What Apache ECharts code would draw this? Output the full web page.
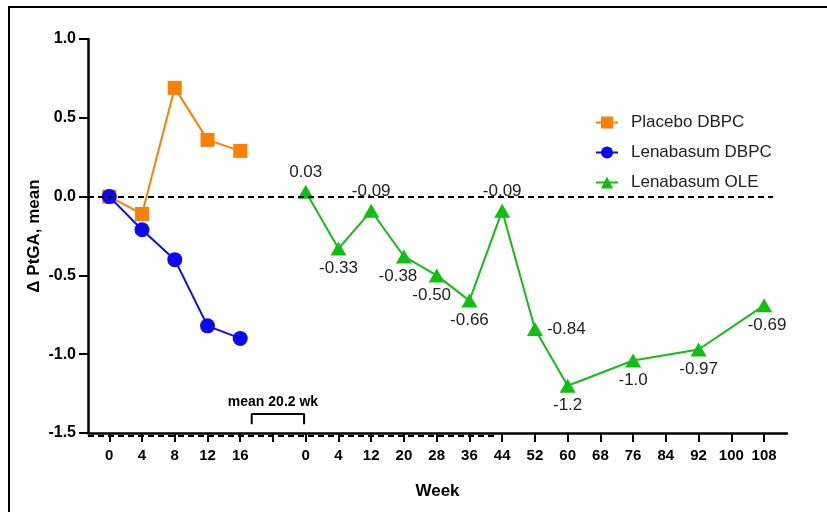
<!DOCTYPE html>
<html>
<head>
<meta charset="utf-8">
<script src="https://cdn.jsdelivr.net/npm/echarts@6/dist/echarts.min.js"></script>
<style>
  html, body { margin: 0; padding: 0; background: #fff; }
  #chart { width: 827px; height: 512px; }
</style>
</head>
<body>
<div id="chart"></div>
<script>
// Tick labels along the week axis: double-blind phase, gap, then open-label extension
const xTickLabels = ['0', '4', '8', '12', '16', '', '0', '4', '12', '20', '28', '36', '44', '52', '60', '68', '76', '84', '92', '100', '108'];
const yTicks = [-1.5, -1.0, -0.5, 0.0, 0.5, 1.0];

// Double-blind placebo-controlled phase (weeks 0..16)
const dbpcWeeks = [0, 4, 8, 12, 16];
const placeboDbpc = [0.0, -0.11, 0.69, 0.36, 0.29];
const lenabasumDbpc = [0.0, -0.21, -0.40, -0.82, -0.90];

// Open-label extension
const oleWeeks = [0, 4, 12, 20, 28, 36, 44, 52, 60, 76, 92, 108];
const lenabasumOle = [0.03, -0.33, -0.09, -0.38, -0.50, -0.66, -0.09, -0.84, -1.2, -1.04, -0.97, -0.69];
const oleLabels = ['0.03', '-0.33', '-0.09', '-0.38', '-0.50', '-0.66', '-0.09', '-0.84', '-1.2', '-1.0', '-0.97', '-0.69'];

// Bracket marking the mean gap between phases (axis units)
const gapBracket = { from: 4.35, to: 5.95, top: -1.38, foot: -1.445, text: 'mean 20.2 wk' };

// Map week numbers onto positions of the segmented axis
const dbpcPos = w => xTickLabels.slice(0, 5).indexOf(String(w));
const olePos = w => 6 + xTickLabels.slice(6).indexOf(String(w));

const oleLabelPlacement = [
  { position: 'top' }, { position: 'bottom' }, { position: 'top' },
  { position: 'bottom', offset: [-6, 0] }, { position: 'bottom', offset: [-5, 0] },
  { position: 'bottom' }, { position: 'top' }, { position: 'right' },
  { position: 'bottom' }, { position: 'bottom' }, { position: 'bottom' }, { position: 'bottom', offset: [3, 0] }
];

const tickIdx = xTickLabels.map((_, i) => i);
const FONT = 'Liberation Sans, Arial, sans-serif';

const chart = echarts.init(document.getElementById('chart'), null, { renderer: 'canvas' });

const option = {
  animation: false,
  backgroundColor: '#fff',
  graphic: [{
    id: 'frame',
    type: 'rect',
    shape: { x: 9, y: 7, width: 840, height: 540 },
    style: { fill: 'none', stroke: '#000', lineWidth: 2 },
    silent: true
  }],
  grid: { left: 88, right: 40, top: 39, bottom: 79 },
  legend: {
    orient: 'vertical',
    left: 590,
    top: 109,
    itemGap: 13,
    itemWidth: 22,
    itemHeight: 15,
    textStyle: { fontFamily: FONT, fontSize: 17, color: '#222', padding: [0, 0, 0, 8] },
    data: ['Placebo DBPC', 'Lenabasum DBPC', 'Lenabasum OLE']
  },
  xAxis: {
    type: 'value',
    min: -0.65,
    max: 20.7,
    name: 'Week',
    nameLocation: 'middle',
    nameGap: 50,
    nameTextStyle: { fontFamily: FONT, fontSize: 17, fontWeight: 'bold', color: '#000' },
    splitLine: { show: false },
    axisLine: { show: true, onZero: false, lineStyle: { color: '#000', width: 2.5 } },
    axisTick: { show: true, length: 9, customValues: tickIdx, lineStyle: { color: '#000', width: 2 } },
    axisLabel: {
      customValues: tickIdx,
      margin: 15,
      fontFamily: FONT,
      fontSize: 15,
      fontWeight: 'bold',
      color: '#000',
      formatter: v => xTickLabels[Math.round(v)] || ''
    }
  },
  yAxis: {
    type: 'value',
    min: -1.5,
    max: 1.0,
    interval: 0.5,
    name: 'Δ PtGA, mean',
    nameLocation: 'middle',
    nameGap: 45,
    nameMoveOverlap: false,
    nameRotate: 90,
    nameTextStyle: { fontFamily: FONT, fontSize: 17, fontWeight: 'bold', color: '#000' },
    splitLine: { show: false },
    axisLine: { show: true, onZero: false, lineStyle: { color: '#000', width: 2.5 } },
    axisTick: { show: true, length: 9, lineStyle: { color: '#000', width: 2 } },
    axisLabel: {
      margin: 12,
      fontFamily: FONT,
      fontSize: 16,
      fontWeight: 'bold',
      color: '#000',
      formatter: v => v.toFixed(1)
    }
  },
  series: [
    {
      name: 'Placebo DBPC',
      type: 'line',
      data: dbpcWeeks.map((w, i) => [dbpcPos(w), placeboDbpc[i]]),
      symbol: 'rect',
      symbolSize: 14,
      z: 3,
      itemStyle: { color: '#FF7F00' },
      lineStyle: { color: '#FF7F00', width: 2 },
      markLine: {
        silent: true,
        symbol: 'none',
        label: { show: false },
        lineStyle: { color: '#000', type: [6, 4], width: 2 },
        data: [[{ coord: [-0.65, 0] }, { coord: [20.27, 0] }]]
      }
    },
    {
      name: 'Lenabasum DBPC',
      type: 'line',
      data: dbpcWeeks.map((w, i) => [dbpcPos(w), lenabasumDbpc[i]]),
      symbol: 'circle',
      symbolSize: 15,
      z: 4,
      itemStyle: { color: '#0A0AF5' },
      lineStyle: { color: '#0A0AF5', width: 2 }
    },
    {
      name: 'Lenabasum OLE',
      type: 'line',
      data: oleWeeks.map((w, i) => ({
        value: [olePos(w), lenabasumOle[i]],
        label: Object.assign({ show: true }, oleLabelPlacement[i])
      })),
      symbol: 'triangle',
      symbolSize: [16, 14],
      z: 3,
      itemStyle: { color: '#10C010' },
      lineStyle: { color: '#10C010', width: 2 },
      label: {
        show: true,
        distance: 4,
        fontFamily: FONT,
        fontSize: 17,
        color: '#222',
        formatter: p => oleLabels[p.dataIndex]
      }
    },
    {
      // Bracket spanning the gap between the two study phases
      name: 'gap',
      type: 'line',
      data: [
        [gapBracket.from, gapBracket.foot],
        [gapBracket.from, gapBracket.top],
        [gapBracket.to, gapBracket.top],
        [gapBracket.to, gapBracket.foot]
      ],
      symbol: 'none',
      silent: true,
      lineStyle: { color: '#000', width: 2 },
      markPoint: {
        symbol: 'circle',
        symbolSize: 0,
        data: [{ coord: [(gapBracket.from + gapBracket.to) / 2 - 0.15, gapBracket.top] }],
        label: {
          show: true,
          position: 'top',
          distance: 5,
          formatter: gapBracket.text,
          fontFamily: FONT,
          fontSize: 14,
          fontWeight: 'bold',
          color: '#000'
        }
      }
    }
  ]
};

chart.setOption(option);

// Dashed rule running just under the week axis across the early part of the timeline
const ruleStart = chart.convertToPixel({ gridIndex: 0 }, [-0.65, -1.5]);
const ruleEnd = chart.convertToPixel({ gridIndex: 0 }, [11.8, -1.5]);
chart.setOption({
  graphic: [{
    id: 'axisRule',
    type: 'line',
    silent: true,
    shape: { x1: ruleStart[0], y1: ruleStart[1] + 3, x2: ruleEnd[0], y2: ruleEnd[1] + 3 },
    style: { stroke: '#000', lineWidth: 2, lineDash: [6, 4] }
  }]
});
</script>
</body>
</html>
